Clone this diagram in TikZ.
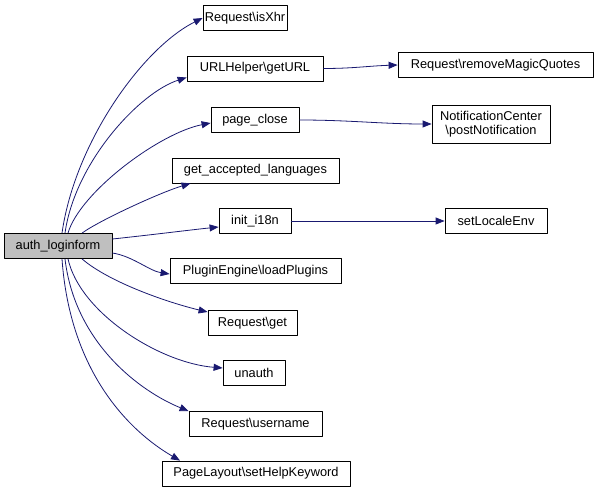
\documentclass[tikz,border=0pt]{standalone}
\usepackage{fontspec}
\setmainfont{Liberation Sans}
\usetikzlibrary{arrows.meta}

\definecolor{edgeblue}{HTML}{191970}
\definecolor{rootgray}{HTML}{BFBFBF}

\tikzset{
  fn/.style={draw=black, line width=0.8pt, fill=white, inner sep=0pt,
    minimum height=25pt, font=\fontsize{12.8}{14}\selectfont},
  call/.style={draw=edgeblue, line width=0.8pt,
    -{Triangle[length=9pt,width=7pt]}}
}
\newcommand{\bs}{\textbackslash}

\begin{document}
\begin{tikzpicture}[x=1pt, y=1pt, line join=round]
  \useasboundingbox (0,0) rectangle (599,493);

  % Wurzel
  \node[fn, fill=rootgray, minimum width=108pt] (auth) at (58,247) {auth\_loginform};

  % Aufgerufene Funktionen
  \node[fn, minimum width=84pt]  (isxhr)   at (245,475)   {Request\bs isXhr};
  \node[fn, minimum width=136pt] (geturl)  at (255,424.5) {URLHelper\bs getURL};
  \node[fn, minimum width=88pt]  (close)   at (255,373)   {page\_close};
  \node[fn, minimum width=167pt] (langs)   at (255.5,322.5) {get\_accepted\_languages};
  \node[fn, minimum width=72pt]  (i18n)    at (255,272)   {init\_i18n};
  \node[fn, minimum width=171pt] (plugins) at (255.5,222) {PluginEngine\bs loadPlugins};
  \node[fn, minimum width=89pt]  (get)     at (252.5,170) {Request\bs get};
  \node[fn, minimum width=62pt]  (unauth)  at (254,120)   {unauth};
  \node[fn, minimum width=133pt] (user)    at (255.5,69)  {Request\bs username};
  \node[fn, minimum width=188pt] (help)    at (256,19.5)  {PageLayout\bs setHelpKeyword};

  % Zweite Ebene
  \node[fn, minimum width=195pt] (magic)  at (495.5,428) {Request\bs removeMagicQuotes};
  \node[fn, minimum width=118pt, minimum height=38pt, align=center]
    (notify) at (491,369) {NotificationCenter\\\bs postNotification};
  \node[fn, minimum width=102pt] (locale) at (496,272) {setLocaleEnv};

  % Kanten nach oben
  \draw[call] ([xshift=4pt]auth.north) .. controls +(13,91) and +(-60,-30) .. (isxhr.west);
  \draw[call] ([xshift=7pt]auth.north) .. controls +(10,71) and +(-47,-15) .. ([yshift=-9pt]geturl.west);
  \draw[call] ([xshift=10pt]auth.north) .. controls +(12,41) and +(-51,-10) .. ([yshift=-3pt]close.west);
  \draw[call] ([xshift=24pt]auth.north) .. controls +(18,13) and +(-30,-9) .. ([xshift=-65pt]langs.south);
  \draw[call] ([yshift=7pt]auth.east) .. controls +(38,4) and +(-29,-3) .. ([yshift=-6pt]i18n.west);
  \draw[call] ([yshift=-7pt]auth.east) .. controls +(20,-3) and +(-20,3) .. ([yshift=-3pt]plugins.west);

  % Kanten nach unten
  \draw[call] ([xshift=24pt]auth.south) .. controls +(28,-24) and +(-38,9) .. ([yshift=11pt]get.west);
  \draw[call] ([xshift=10pt]auth.south) .. controls +(12,-54) and +(-63,5) .. ([yshift=5pt]unauth.west);
  \draw[call] ([xshift=7pt]auth.south) .. controls +(10,-84) and +(-49,20) .. (user.north west);
  \draw[call] ([xshift=4pt]auth.south) .. controls +(8,-114) and +(-50,29) .. ([xshift=-76pt]help.north);

  % Zweite Ebene
  \draw[call] (geturl.east) .. controls +(30,0) and +(-30,-1) .. (magic.west);
  \draw[call] (close.east) .. controls +(50,0) and +(-50,0) .. (notify.west);
  \draw[call] (i18n.east) -- (locale.west);
\end{tikzpicture}
\end{document}
